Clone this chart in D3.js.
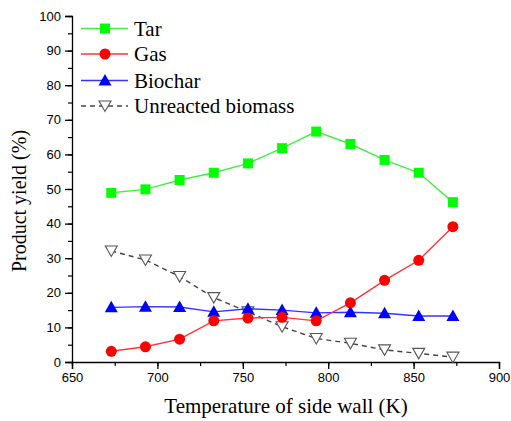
<!DOCTYPE html>
<html>
<head>
<meta charset="utf-8">
<script src="https://cdn.jsdelivr.net/npm/d3@7"></script>
<style>
  html, body { margin: 0; padding: 0; background: #fff; }
  svg { display: block; }
</style>
</head>
<body>
<svg id="chart" width="511" height="421"></svg>
<script>
// Side-wall temperature (K)
const temperatures = [673, 693, 713, 733, 753, 773, 793, 813, 833, 853, 873];
// Product yields (%)
const tarYield       = [48.9, 49.9, 52.6, 54.7, 57.4, 61.8, 66.6, 63.0, 58.4, 54.7, 46.2];
const gasYield       = [3.1, 4.4, 6.6, 11.9, 12.7, 12.9, 11.9, 17.1, 23.6, 29.4, 39.1];
const biocharYield   = [15.8, 16.0, 15.9, 14.5, 15.4, 15.0, 14.2, 14.4, 14.1, 13.3, 13.3];
const unreactedYield = [32.1, 29.5, 24.7, 18.6, 14.5, 10.2, 6.8, 5.4, 3.5, 2.5, 1.4];

const seriesNames = ["Tar", "Gas", "Biochar", "Unreacted biomass"];
const xTicks = [650, 700, 750, 800, 850, 900];
const yTicks = [0, 10, 20, 30, 40, 50, 60, 70, 80, 90, 100];

const series = [
  { name: seriesNames[0], values: tarYield,       color: "#00ff00", line: "#44ee44", marker: "square",   dash: null },
  { name: seriesNames[1], values: gasYield,       color: "#ff0000", line: "#ff3333", marker: "circle",   dash: null },
  { name: seriesNames[2], values: biocharYield,   color: "#0000ff", line: "#3333ff", marker: "triangle", dash: null },
  { name: seriesNames[3], values: unreactedYield, color: "#555555", line: "#444444", marker: "triangleDown", dash: "5,4" }
];

const svg = d3.select("#chart");
const plotLeft = 72, plotRight = 499, plotTop = 16, plotBottom = 362;

const x = d3.scaleLinear().domain([650, 900]).range([plotLeft, plotRight]);
const y = d3.scaleLinear().domain([0, 100]).range([plotBottom, plotTop]);

// Axes with minor ticks
const xMinor = d3.range(650, 901, 25);
const yMinor = d3.range(0, 101, 5);

const gx = svg.append("g").attr("transform", `translate(0,${plotBottom})`);
gx.call(d3.axisBottom(x).tickValues(xMinor).tickSize(4).tickFormat(""));
gx.call(g => g.selectAll(".tick line").attr("stroke", "#000").attr("stroke-width", 1.2));
const gxMajor = svg.append("g").attr("transform", `translate(0,${plotBottom})`)
  .call(d3.axisBottom(x).tickValues(xTicks).tickSize(7).tickPadding(4).tickFormat(d3.format("d")));
gxMajor.select(".domain").attr("stroke", "#000").attr("stroke-width", 1.3);
gxMajor.selectAll(".tick line").attr("stroke-width", 1.3);
gxMajor.selectAll("text").attr("font-family", "Liberation Sans, Arial, sans-serif").attr("font-size", 13).attr("fill", "#000");

const gy = svg.append("g").attr("transform", `translate(${plotLeft},0)`);
gy.call(d3.axisLeft(y).tickValues(yMinor).tickSize(4).tickFormat(""));
gy.call(g => g.selectAll(".tick line").attr("stroke", "#000").attr("stroke-width", 1.2));
const gyMajor = svg.append("g").attr("transform", `translate(${plotLeft},0)`)
  .call(d3.axisLeft(y).tickValues(yTicks).tickSize(7).tickPadding(4).tickFormat(d3.format("d")));
gyMajor.select(".domain").attr("stroke", "#000").attr("stroke-width", 1.3);
gyMajor.selectAll(".tick line").attr("stroke-width", 1.3);
gyMajor.selectAll("text").attr("font-family", "Liberation Sans, Arial, sans-serif").attr("font-size", 13).attr("fill", "#000");
svg.selectAll(".domain").attr("stroke", "#000");

// Axis titles
svg.append("text")
  .attr("x", 286).attr("y", 413)
  .attr("text-anchor", "middle")
  .attr("font-family", "Liberation Serif, Times New Roman, serif")
  .attr("font-size", 21)
  .text("Temperature of side wall (K)");

svg.append("text")
  .attr("transform", "translate(26,201) rotate(-90)")
  .attr("text-anchor", "middle")
  .attr("font-family", "Liberation Serif, Times New Roman, serif")
  .attr("font-size", 20)
  .text("Product yield (%)");

// Marker drawing
function drawMarker(g, type, color, cx, cy) {
  if (type === "square") {
    g.append("rect").attr("x", cx - 5).attr("y", cy - 5).attr("width", 10).attr("height", 10)
      .attr("fill", color);
  } else if (type === "circle") {
    g.append("circle").attr("cx", cx).attr("cy", cy).attr("r", 5.5).attr("fill", color);
  } else if (type === "triangle") {
    g.append("path").attr("d", `M${cx},${cy - 6.5}L${cx + 6.5},${cy + 5}L${cx - 6.5},${cy + 5}Z`)
      .attr("fill", color);
  } else if (type === "triangleDown") {
    g.append("path").attr("d", `M${cx - 6},${cy - 5}L${cx + 6},${cy - 5}L${cx},${cy + 5.5}Z`)
      .attr("fill", "#fff").attr("stroke", color).attr("stroke-width", 1.1);
  }
}

const line = d3.line().x(d => x(d[0])).y(d => y(d[1]));

// Draw order: unreacted, biochar, gas, tar
[3, 2, 1, 0].forEach(i => {
  const s = series[i];
  const pts = temperatures.map((t, j) => [t, s.values[j]]);
  const g = svg.append("g");
  g.append("path").datum(pts).attr("d", line)
    .attr("fill", "none").attr("stroke", s.line).attr("stroke-width", 1.4)
    .attr("stroke-dasharray", s.dash);
  pts.forEach(p => drawMarker(g, s.marker, s.color, x(p[0]), y(p[1])));
});

// Legend
const legend = svg.append("g");
const legendY = [28.5, 54, 80.5, 106];
series.forEach((s, i) => {
  const ly = legendY[i];
  legend.append("line").attr("x1", 81).attr("x2", 128).attr("y1", ly).attr("y2", ly)
    .attr("stroke", s.line).attr("stroke-width", 1.4).attr("stroke-dasharray", s.dash);
  drawMarker(legend, s.marker, s.color, 105, ly);
  legend.append("text").attr("x", 134).attr("y", ly + 7)
    .attr("font-family", "Liberation Serif, Times New Roman, serif")
    .attr("font-size", 21)
    .text(s.name);
});
</script>
</body>
</html>
